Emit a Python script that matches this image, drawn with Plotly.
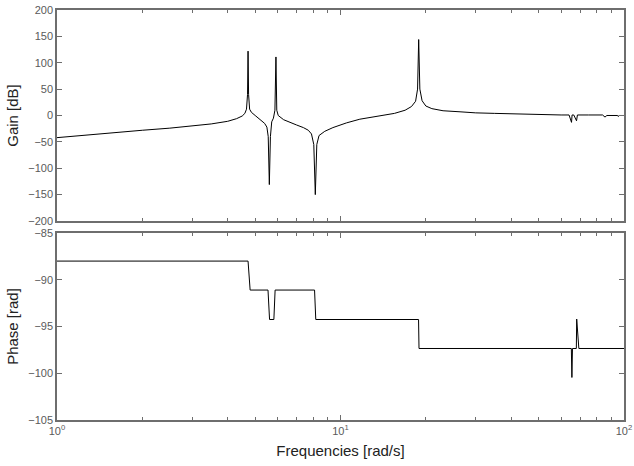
import plotly.graph_objects as go

# Gain curve (frequency in rad/s, gain in dB)
freq_gain = [1.0, 1.5, 2.0, 2.5, 3.0, 3.5, 4.0, 4.3, 4.5, 4.6, 4.66, 4.70, 4.72, 4.74, 4.78, 4.85,
             5.0, 5.2, 5.4, 5.5, 5.56, 5.61, 5.66, 5.72, 5.8, 5.87, 5.92, 5.96, 6.03, 6.3, 6.6,
             7.0, 7.4, 7.7, 7.9, 8.05, 8.15, 8.25, 8.4, 8.8, 9.4, 10.5, 11.7, 13.5, 15.5, 16.9,
             17.8, 18.4, 18.7, 18.87, 19.05, 19.4, 20.0, 21.0, 23.0, 26.4, 30, 35, 40, 45, 50,
             60, 64, 65.3, 65.6, 66.5, 68.0, 68.5, 75, 84, 85.7, 87, 95, 95.5, 96, 100]
gain_db = [-42, -33, -28, -24, -20, -16, -11, -6, -1, 4, 12, 40, 122, 40, 12, 6,
           0, -7, -15, -22, -40, -131, -40, -12, -5, 10, 111, 10, 0, -8, -13,
           -18, -23, -28, -35, -55, -150, -55, -38, -30, -23, -14, -7, -2, 4, 10,
           17, 27, 50, 144, 50, 28, 18, 13, 9, 7, 5, 4, 3, 3, 2,
           1, 1, -13, 1, 1, -10, 1, 1, 1, -3, 0, 0, -2, 0, 0]

# Phase curve (frequency in rad/s, phase in rad)
freq_phase = [1.0, 4.72, 4.8, 5.55, 5.62, 5.82, 5.88, 8.1, 8.18, 18.85, 18.92,
              65.2, 65.5, 65.8, 67.9, 68.1, 69.3, 100]
phase_rad = [-88, -88, -91.1, -91.1, -94.25, -94.25, -91.1, -91.1, -94.25, -94.25, -97.35,
             -97.35, -100.45, -97.35, -97.35, -94.2, -97.35, -97.35]

x_major = [1, 10, 100]
x_major_text = ["10<sup>0</sup>", "10<sup>1</sup>", "10<sup>2</sup>"]
x_minor = [2, 3, 4, 5, 6, 7, 8, 9, 20, 30, 40, 50, 60, 70, 80, 90]

FONT = "Liberation Sans, Arial, Helvetica, sans-serif"
AX = "#6e6e6e"
TICKC = "#5a5a5a"
TITLEC = "#222222"

fig = go.Figure()
fig.add_trace(go.Scatter(x=freq_gain, y=gain_db, mode="lines",
                         line=dict(color="black", width=1), xaxis="x", yaxis="y",
                         showlegend=False))
fig.add_trace(go.Scatter(x=freq_phase, y=phase_rad, mode="lines",
                         line=dict(color="black", width=1), xaxis="x2", yaxis="y2",
                         showlegend=False))

common = dict(showline=True, linecolor=AX, linewidth=1.5, mirror="allticks",
              ticks="inside", ticklen=5, tickcolor=AX, tickwidth=1,
              showgrid=False, zeroline=False, automargin=False,
              tickfont=dict(family=FONT, size=11, color=TICKC))

xcommon = dict(common, type="log", range=[0, 2], tickmode="array",
               tickvals=x_major, ticktext=x_major_text,
               minor=dict(tickmode="array", tickvals=x_minor, ticks="inside",
                          ticklen=3, tickcolor=AX, showgrid=False))

fig.update_layout(
    template="none",
    width=634, height=466,
    margin=dict(l=57, r=10, t=10, b=46, autoexpand=False),
    paper_bgcolor="white", plot_bgcolor="white",
    font=dict(family=FONT, color=TITLEC),
    xaxis=dict(xcommon, domain=[0, 1], anchor="y", showticklabels=False),
    yaxis=dict(common, domain=[0.4854, 1], anchor="x", range=[-200, 200],
               tickmode="array", tickvals=list(range(-200, 201, 50)),
               title=dict(text="Gain [dB]", font=dict(family=FONT, size=15, color=TITLEC),
                          standoff=6)),
    xaxis2=dict(xcommon, domain=[0, 1], anchor="y2",
                title=dict(text="Frequencies [rad/s]",
                           font=dict(family=FONT, size=15, color=TITLEC), standoff=10)),
    yaxis2=dict(common, domain=[0, 0.456], anchor="x2", range=[-105, -85],
                tickmode="array", tickvals=[-105, -100, -95, -90, -85],
                title=dict(text="Phase [rad]", font=dict(family=FONT, size=15, color=TITLEC),
                           standoff=6)),
)

fig.write_html("out.html")
